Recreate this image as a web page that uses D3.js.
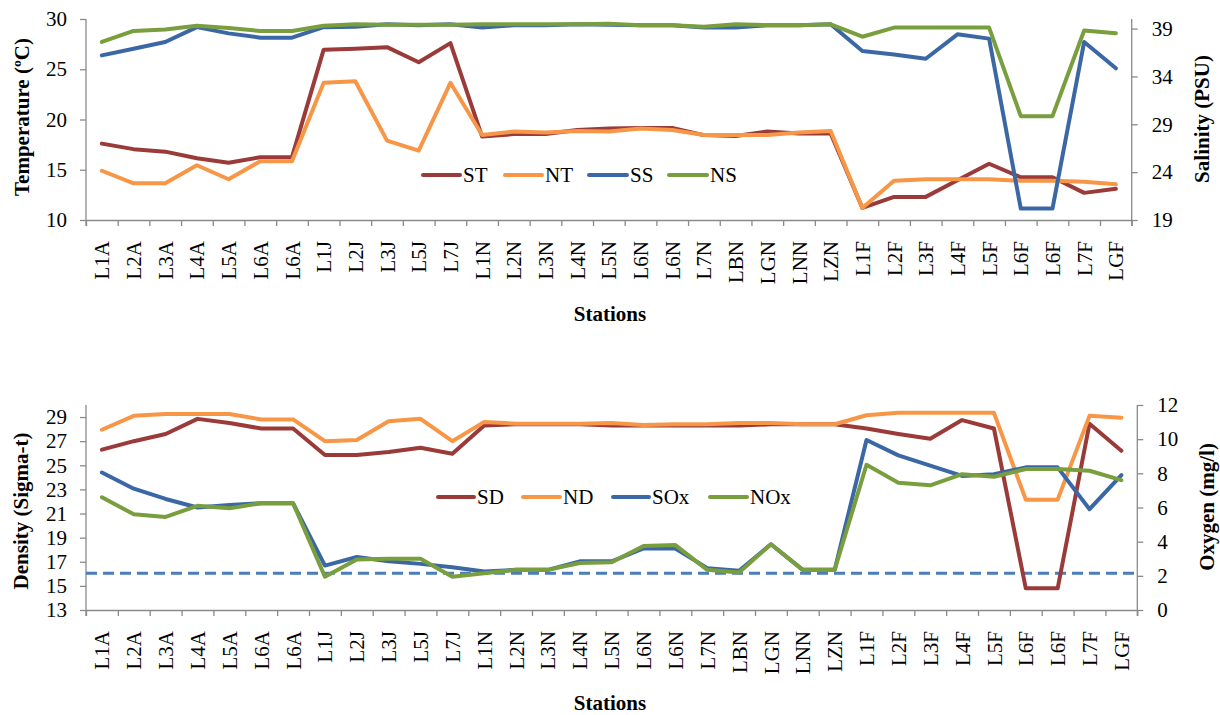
<!DOCTYPE html>
<html>
<head>
<meta charset="utf-8">
<script src="https://cdn.jsdelivr.net/npm/d3@7"></script>
<style>
  html, body { margin: 0; padding: 0; background: #fff; }
  svg { display: block; }
  svg text { font-family: "Liberation Serif", "Times New Roman", serif !important; fill: #000; }
</style>
</head>
<body>
<svg id="chart" width="1220" height="715"></svg>
<script>
// ---------------- DATA ----------------
const stations = ["L1A","L2A","L3A","L4A","L5A","L6A","L6A","L1J","L2J","L3J","L5J","L7J",
  "L1N","L2N","L3N","L4N","L5N","L6N","L6N","L7N","LBN","LGN","LNN","LZN",
  "L1F","L2F","L3F","L4F","L5F","L6F","L6F","L7F","LGF"];

// Top panel: temperature (left axis, °C) and salinity (right axis, PSU)
const ST = [17.6,17.05,16.8,16.15,15.7,16.25,16.25,26.95,27.05,27.2,25.7,27.6,
  18.3,18.55,18.55,18.95,19.1,19.15,19.15,18.45,18.35,18.8,18.6,18.6,
  11.2,12.3,12.3,13.95,15.6,14.25,14.25,12.7,13.1];
const NT = [14.9,13.65,13.65,15.45,14.05,15.85,15.85,23.65,23.8,17.9,16.9,23.65,
  18.45,18.8,18.7,18.85,18.8,19.1,18.95,18.45,18.45,18.45,18.7,18.85,
  11.2,13.9,14.05,14.05,14.05,13.9,13.9,13.8,13.55];
const SS = [36.2,36.9,37.6,39.15,38.5,38.05,38.05,39.15,39.2,39.45,39.35,39.45,
  39.1,39.35,39.35,39.45,39.4,39.35,39.35,39.1,39.1,39.35,39.35,39.45,
  36.65,36.3,35.85,38.4,37.95,20.2,20.2,37.6,34.85];
const NS = [37.6,38.75,38.9,39.3,39.05,38.75,38.75,39.3,39.45,39.4,39.4,39.4,
  39.45,39.45,39.45,39.45,39.5,39.35,39.35,39.2,39.45,39.35,39.35,39.45,
  38.15,39.1,39.1,39.1,39.1,29.85,29.85,38.8,38.5];

// Bottom panel: density (left axis, sigma-t) and oxygen (right axis, mg/l)
const SD = [26.3,27.0,27.6,28.85,28.5,28.05,28.05,25.85,25.85,26.1,26.45,25.95,
  28.3,28.4,28.4,28.4,28.3,28.3,28.3,28.3,28.3,28.4,28.4,28.4,
  28.05,27.6,27.2,28.75,28.05,14.8,14.8,28.45,26.2];
const ND = [27.95,29.1,29.25,29.25,29.25,28.8,28.8,27.0,27.1,28.65,28.85,27.0,
  28.6,28.45,28.45,28.45,28.5,28.35,28.4,28.4,28.5,28.5,28.4,28.4,
  29.15,29.35,29.35,29.35,29.35,22.15,22.15,29.1,28.95];
const SOx = [8.05,7.1,6.5,6.0,6.15,6.25,6.25,2.6,3.1,2.85,2.7,2.5,
  2.25,2.35,2.35,2.85,2.85,3.6,3.6,2.45,2.3,3.85,2.35,2.35,
  9.95,9.05,8.45,7.85,7.95,8.35,8.35,5.9,7.9];
const NOx = [6.6,5.6,5.45,6.1,5.95,6.25,6.25,1.95,2.95,3.0,3.0,1.95,
  2.15,2.35,2.35,2.75,2.8,3.75,3.8,2.35,2.2,3.85,2.35,2.35,
  8.5,7.45,7.3,7.95,7.8,8.25,8.25,8.15,7.6];
const oxygenThreshold = 2.15;

// Tick labels
const tempTicks = [10,15,20,25,30];
const salTicks = [19,24,29,34,39];
const densTicks = [13,15,17,19,21,23,25,27,29];
const oxyTicks = [0,2,4,6,8,10,12];

// Legend labels
const topLegend = ["ST","NT","SS","NS"];
const botLegend = ["SD","ND","SOx","NOx"];

// ---------------- STYLE ----------------
const FONT = '"Liberation Serif", "Times New Roman", serif';
const colors = { red: "#9A3B39", orange: "#F79646", blue: "#3B68A4", green: "#799E3E" };
const axisColor = "#8A8A8A";
const svg = d3.select("#chart");

function panel(cfg) {
  const g = svg.append("g");
  const idx = d3.range(stations.length);
  const xLin = d3.scaleLinear().domain([0, stations.length]).range([cfg.x0, cfg.x1]);
  const xBand = d3.scaleBand().domain(idx).range([cfg.x0, cfg.x1]).padding(0);
  const yL = d3.scaleLinear().domain(cfg.leftDomain).range([cfg.yBottom, cfg.yTop]);
  const yR = d3.scaleLinear().domain(cfg.rightDomain).range([cfg.yBottom, cfg.yTop]);
  const cx = i => xBand(i) + xBand.bandwidth() / 2;

  // X axis ticks (between categories)
  const xAxisTicks = g.append("g").attr("transform", `translate(0,${cfg.yBottom})`)
    .call(d3.axisBottom(xLin).tickValues(d3.range(stations.length + 1)).tickFormat("").tickSize(6).tickSizeOuter(0));
  // X labels
  const xAxisLab = g.append("g").attr("transform", `translate(0,${cfg.yBottom})`)
    .call(d3.axisBottom(xBand).tickSize(0).tickFormat(i => stations[i]));
  xAxisLab.select(".domain").remove();
  xAxisLab.selectAll("text")
    .attr("transform", "rotate(-90)")
    .attr("x", -21).attr("y", 0).attr("dy", "0.36em")
    .attr("text-anchor", "end");

  // Left axis
  const la = g.append("g").attr("transform", `translate(${cfg.x0},0)`)
    .call(d3.axisLeft(yL).tickValues(cfg.leftTicks).tickSize(6).tickSizeOuter(0).tickPadding(13));
  // Right axis
  const ra = g.append("g").attr("transform", `translate(${cfg.x1},0)`)
    .call(d3.axisRight(yR).tickValues(cfg.rightTicks).tickSize(6).tickSizeOuter(0).tickPadding(14));
  ra.select(".domain").attr("d", `M0,${cfg.yTop}V${cfg.yBottom + 6}`);
  la.select(".domain").attr("d", `M0,${cfg.yTop}V${cfg.yBottom + 6}`);

  [xAxisTicks, xAxisLab, la, ra].forEach(a => {
    a.attr("font-family", FONT).attr("font-size", 21);
    a.selectAll("text").attr("font-family", FONT).attr("font-size", 21).style("font-family", FONT);
    a.selectAll("line").attr("stroke", axisColor).attr("stroke-width", 1.3);
    a.select(".domain").attr("stroke", axisColor).attr("stroke-width", 1.3);
  });

  // Dashed threshold
  if (cfg.threshold !== undefined) {
    g.append("line")
      .attr("x1", cfg.x0).attr("x2", cfg.x1)
      .attr("y1", yR(cfg.threshold)).attr("y2", yR(cfg.threshold))
      .attr("stroke", "#4A7EBB").attr("stroke-width", 3)
      .attr("stroke-dasharray", "11,6");
  }

  // Lines
  cfg.series.forEach(s => {
    const y = s.axis === "left" ? yL : yR;
    const line = d3.line().x((d, i) => cx(i)).y(d => y(d));
    g.append("path").datum(s.values)
      .attr("d", line).attr("fill", "none")
      .attr("stroke", s.color).attr("stroke-width", 4)
      .attr("stroke-linejoin", "round").attr("stroke-linecap", "round");
  });

  // Legend
  cfg.series.forEach((s, k) => {
    const L = cfg.legendPos[k];
    g.append("line").attr("x1", L[0]).attr("x2", L[1]).attr("y1", cfg.legendY).attr("y2", cfg.legendY)
      .attr("stroke", s.color).attr("stroke-width", 4).attr("stroke-linecap", "round");
    g.append("text").attr("x", L[1] + 3).attr("y", cfg.legendY + 7)
      .attr("font-family", FONT).attr("font-size", 21).text(s.name);
  });

  // Titles
  g.append("text").attr("transform", `translate(${cfg.leftTitleX},${cfg.leftTitleY}) rotate(-90)`)
    .attr("text-anchor", "middle").attr("dy", "0.35em")
    .attr("font-family", FONT).attr("font-size", 21).attr("font-weight", "bold").text(cfg.leftTitle);
  g.append("text").attr("transform", `translate(${cfg.rightTitleX},${cfg.rightTitleY}) rotate(-90)`)
    .attr("text-anchor", "middle").attr("dy", "0.35em")
    .attr("font-family", FONT).attr("font-size", 21).attr("font-weight", "bold").text(cfg.rightTitle);
  g.append("text").attr("x", 610).attr("y", cfg.xTitleY)
    .attr("text-anchor", "middle")
    .attr("font-family", FONT).attr("font-size", 21).attr("font-weight", "bold").text("Stations");
}

panel({
  x0: 86, x1: 1131.7, yTop: 19, yBottom: 220,
  leftDomain: [10, 30], rightDomain: [19, 40],
  leftTicks: tempTicks, rightTicks: salTicks,
  series: [
    { name: topLegend[0], values: ST, axis: "left", color: colors.red },
    { name: topLegend[1], values: NT, axis: "left", color: colors.orange },
    { name: topLegend[2], values: SS, axis: "right", color: colors.blue },
    { name: topLegend[3], values: NS, axis: "right", color: colors.green }
  ],
  legendY: 175,
  legendPos: [[423, 460], [505, 542], [589, 627], [669, 707]],
  leftTitle: "Temperature (ºC)", leftTitleX: 22, leftTitleY: 117,
  rightTitle: "Salinity (PSU)", rightTitleX: 1202, rightTitleY: 119,
  xTitleY: 321
});

panel({
  x0: 86, x1: 1137.3, yTop: 405, yBottom: 610,
  leftDomain: [13, 30], rightDomain: [0, 12],
  leftTicks: densTicks, rightTicks: oxyTicks,
  threshold: oxygenThreshold,
  series: [
    { name: botLegend[0], values: SD, axis: "left", color: colors.red },
    { name: botLegend[1], values: ND, axis: "left", color: colors.orange },
    { name: botLegend[2], values: SOx, axis: "right", color: colors.blue },
    { name: botLegend[3], values: NOx, axis: "right", color: colors.green }
  ],
  legendY: 497,
  legendPos: [[438, 474], [523, 560], [613, 649], [710, 747]],
  leftTitle: "Density (Sigma-t)", leftTitleX: 21, leftTitleY: 511,
  rightTitle: "Oxygen (mg/l)", rightTitleX: 1207, rightTitleY: 507,
  xTitleY: 710
});
</script>
</body>
</html>
